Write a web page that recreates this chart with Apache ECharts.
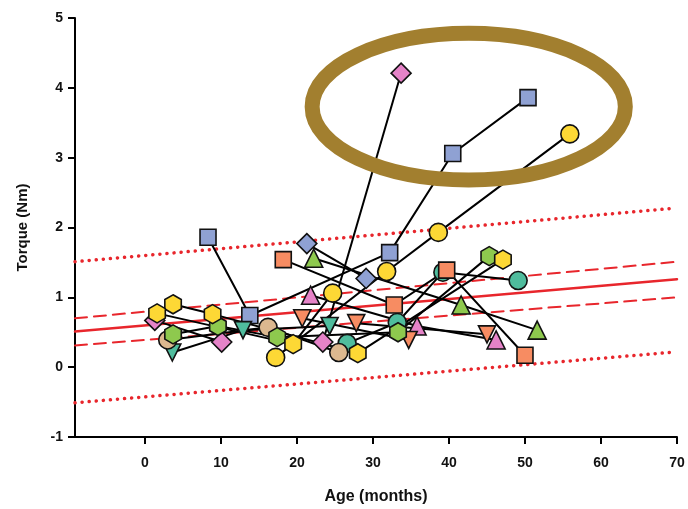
<!DOCTYPE html>
<html>
<head>
<meta charset="utf-8">
<script src="https://cdn.jsdelivr.net/npm/echarts@6/dist/echarts.min.js"></script>
<style>
  html, body { margin: 0; padding: 0; background: #fff; }
  #main { width: 688px; height: 509px; }
</style>
</head>
<body>
<div id="main"></div>
<script>
// each subject: [age (months), torque (Nm)]
var blueSquare = [[8.3, 1.86], [13.8, 0.74], [32.2, 1.64], [40.5, 3.06], [50.4, 3.86]];
var yellowCircle = [[17.2, 0.14], [31.8, 1.37], [38.6, 1.93], [55.9, 3.34]];
var pinkDiamondA = [[23.4, 0.36], [33.7, 4.21]];
var pinkDiamondB = [[1.3, 0.67], [10.1, 0.36]];
var orangeSquare = [[18.2, 1.54], [32.8, 0.89], [39.7, 1.39], [50.0, 0.17]];
var greenTriangle = [[22.2, 1.56], [41.6, 0.89], [51.6, 0.53]];
var blueDiamond = [[21.3, 1.77], [29.1, 1.27]];
var pinkTriangle = [[21.8, 1.03], [35.8, 0.59], [46.2, 0.39]];
var orangeDownA = [[20.7, 0.70], [34.7, 0.39]];
var orangeDownB = [[27.8, 0.63], [45.0, 0.47]];
var tealDown = [[3.6, 0.21], [12.9, 0.53], [24.3, 0.59]];
var tealCircle = [[26.6, 0.34], [33.2, 0.64], [39.2, 1.36], [49.1, 1.24]];
var beigeCircle = [[3.0, 0.39], [16.2, 0.57], [25.5, 0.21]];
var greenHex = [[3.7, 0.47], [9.6, 0.59], [17.4, 0.43], [33.3, 0.50], [45.3, 1.59]];
var yellowHexA = [[3.7, 0.90], [8.9, 0.76], [28.0, 0.20], [47.1, 1.54]];
var yellowHexB = [[1.6, 0.77], [19.5, 0.33], [24.7, 1.06]];

// regression fit and bands: x ends, y ends
var fitX = [-9.2, 70];
var bandX = [-9.2, 69];
var fitLine = [0.51, 1.26];
var ciUpper = [0.70, 1.51];
var ciLower = [0.31, 1.00];
var piUpper = [1.51, 2.27];
var piLower = [-0.51, 0.21];

var xTicks = [0, 10, 20, 30, 40, 50, 60, 70];

var ellipseCenter = [42.6, 3.73];
var ellipseRadius = [20.6, 1.05];

var BLUE = '#8fa1d3';
var YELLOW = '#fdd835';
var PINK = '#e583c8';
var ORANGE = '#f78c62';
var GREEN = '#8ec94e';
var TEAL = '#4fbc9d';
var BEIGE = '#dcb88f';
var RED = '#e8262c';
var HEX = 'path://M0,-10L8.66,-5L8.66,5L0,10L-8.66,5L-8.66,-5Z';

var subjects = [
  { data: tealCircle, symbol: 'circle', size: 18, color: TEAL },
  { data: blueSquare, symbol: 'rect', size: 16, color: BLUE },
  { data: yellowCircle, symbol: 'circle', size: 18, color: YELLOW },
  { data: pinkDiamondA, symbol: 'diamond', size: 20, color: PINK },
  { data: pinkDiamondB, symbol: 'diamond', size: 20, color: PINK },
  { data: orangeSquare, symbol: 'rect', size: 16, color: ORANGE },
  { data: greenTriangle, symbol: 'triangle', size: 18, color: GREEN },
  { data: blueDiamond, symbol: 'diamond', size: 20, color: BLUE },
  { data: pinkTriangle, symbol: 'triangle', size: 18, color: PINK },
  { data: orangeDownA, symbol: 'triangle', size: 17, color: ORANGE, rotate: 180 },
  { data: orangeDownB, symbol: 'triangle', size: 17, color: ORANGE, rotate: 180 },
  { data: tealDown, symbol: 'triangle', size: 17, color: TEAL, rotate: 180 },
  { data: beigeCircle, symbol: 'circle', size: 18, color: BEIGE },
  { data: greenHex, symbol: HEX, size: 19, color: GREEN },
  { data: yellowHexA, symbol: HEX, size: 19, color: YELLOW },
  { data: yellowHexB, symbol: HEX, size: 19, color: YELLOW, last: 'circle' }
];

function seg(xs, ys) {
  return [[xs[0], ys[0]], [xs[1], ys[1]]];
}

var series = [];

function redLine(data, type, width) {
  series.push({
    type: 'line',
    data: data,
    showSymbol: false,
    silent: true,
    z: 1,
    lineStyle: { color: RED, width: width, type: type, cap: 'round' }
  });
}
redLine(seg(fitX, fitLine), 'solid', 2.5);
redLine(seg(fitX, ciUpper), [12, 7], 2);
redLine(seg(fitX, ciLower), [12, 7], 2);
redLine(seg(bandX, piUpper), [0.1, 7], 3.5);
redLine(seg(bandX, piLower), [0.1, 7], 3.5);

subjects.forEach(function (s) {
  series.push({
    type: 'line',
    data: s.data,
    showSymbol: false,
    silent: true,
    z: 2,
    lineStyle: { color: '#000', width: 2 }
  });
});

subjects.forEach(function (s) {
  series.push({
    type: 'scatter',
    z: 3,
    symbol: s.symbol,
    symbolSize: s.size,
    symbolRotate: s.rotate || 0,
    symbolKeepAspect: true,
    itemStyle: { color: s.color, borderColor: '#111', borderWidth: 1.6, opacity: 1 },
    data: s.data.map(function (p, i) {
      if (s.last && i === s.data.length - 1) {
        return { value: p, symbol: s.last, symbolSize: 18 };
      }
      return p;
    })
  });
});

var font = 'Liberation Sans, Arial, sans-serif';

var chart = echarts.init(document.getElementById('main'));
var option = {
  animation: false,
  grid: { left: 75, right: 11, top: 18, bottom: 72, containLabel: false, outerBoundsMode: 'none' },
  xAxis: {
    type: 'value',
    min: -9.2,
    max: 70,
    name: 'Age (months)',
    nameLocation: 'middle',
    nameGap: 52,
    nameTextStyle: { fontFamily: font, fontWeight: 'bold', fontSize: 16, color: '#111' },
    axisLine: { onZero: false, lineStyle: { color: '#000', width: 2 } },
    axisTick: { show: true, length: 7, lineStyle: { color: '#000', width: 2 }, customValues: xTicks },
    axisLabel: { customValues: xTicks, margin: 19, fontFamily: font, fontWeight: 'bold', fontSize: 14, color: '#111' },
    splitLine: { show: false }
  },
  yAxis: {
    type: 'value',
    min: -1,
    max: 5,
    interval: 1,
    name: 'Torque (Nm)',
    nameLocation: 'middle',
    nameGap: 45,
    nameTextStyle: { fontFamily: font, fontWeight: 'bold', fontSize: 15, color: '#111' },
    axisLine: { show: true, onZero: false, lineStyle: { color: '#000', width: 2 } },
    axisTick: { show: true, length: 7, lineStyle: { color: '#000', width: 2 } },
    axisLabel: { margin: 12, fontFamily: font, fontWeight: 'bold', fontSize: 14, color: '#111' },
    splitLine: { show: false }
  },
  series: series
};
chart.setOption(option);

// highlight ellipse around the three high values
var c = chart.convertToPixel({ gridIndex: 0 }, ellipseCenter);
var ex = chart.convertToPixel({ gridIndex: 0 }, [ellipseCenter[0] + ellipseRadius[0], ellipseCenter[1] + ellipseRadius[1]]);
chart.setOption({
  graphic: [{
    type: 'ellipse',
    z: 10,
    shape: { cx: c[0], cy: c[1], rx: Math.abs(ex[0] - c[0]), ry: Math.abs(c[1] - ex[1]) },
    style: { fill: 'none', stroke: '#a27f2f', lineWidth: 15 }
  }]
});
</script>
</body>
</html>
